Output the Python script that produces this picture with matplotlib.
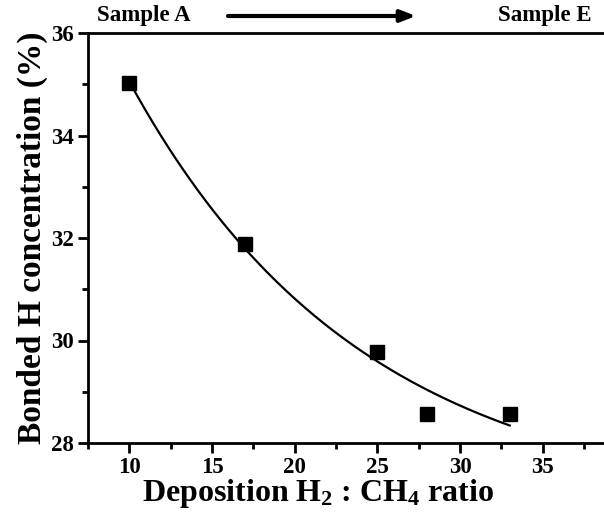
import numpy as np
import matplotlib
matplotlib.use("Agg")
import matplotlib.pyplot as plt
from matplotlib.ticker import MultipleLocator

# data
ratio = np.array([10, 17, 25, 28, 33])
h_conc = np.array([35.02, 31.88, 29.77, 28.57, 28.57])
sample_first = "Sample A"
sample_last = "Sample E"

plt.rcParams['font.family'] = ['Liberation Serif', 'DejaVu Serif']
plt.rcParams['font.weight'] = 'bold'
plt.rcParams['axes.labelweight'] = 'bold'
plt.rcParams['mathtext.fontset'] = 'custom'
plt.rcParams['mathtext.rm'] = 'Liberation Serif:bold'
plt.rcParams['mathtext.bf'] = 'Liberation Serif:bold'
plt.rcParams['mathtext.default'] = 'rm'

# exponential decay fit y = y0 + A*exp(-x/t), scan t
best = None
for t in np.linspace(2, 200, 4000):
    M = np.column_stack([np.ones_like(ratio, dtype=float), np.exp(-ratio / t)])
    coef, res, _, _ = np.linalg.lstsq(M, h_conc, rcond=None)
    err = np.sum((M @ coef - h_conc) ** 2)
    if best is None or err < best[0]:
        best = (err, t, coef)
_, t_fit, (y0, a_fit) = best
xfit = np.linspace(ratio.min(), ratio.max(), 200)
yfit = y0 + a_fit * np.exp(-xfit / t_fit)

fig = plt.figure(figsize=(6.04, 5.22), dpi=100)
ax = fig.add_axes([88 / 604, 1 - 443 / 522, 1 - 88 / 604, (443 - 33) / 522])

ax.plot(xfit, yfit, color='black', lw=1.6)
ax.plot(ratio, h_conc, 's', color='black', ms=9.5)

ax.set_xlim(7.5, 38.7)
ax.set_ylim(28, 36)
ax.xaxis.set_major_locator(MultipleLocator(5))
ax.xaxis.set_minor_locator(MultipleLocator(2.5))
ax.yaxis.set_major_locator(MultipleLocator(2))
ax.yaxis.set_minor_locator(MultipleLocator(1))
ax.spines['right'].set_visible(False)
for s in ['left', 'bottom', 'top']:
    ax.spines[s].set_linewidth(2)
ax.tick_params(which='major', direction='out', length=7, width=2, labelsize=16.5, pad=3)
ax.tick_params(which='minor', direction='out', length=4, width=2)
ax.tick_params(top=False, which='both')

# x label centred a bit left of the axes middle, as in the original
fig.text(318 / 604, 1 - 493 / 522, r'Deposition H$_2$ : CH$_4$ ratio',
         fontsize=23, ha='center', va='center', fontweight='bold')
ax.set_ylabel('Bonded H concentration (%)', fontsize=24, labelpad=2)

fig.text(97 / 604, 1 - 16 / 522, sample_first, fontsize=16.5, ha='left', va='center')
fig.text(592 / 604, 1 - 16 / 522, sample_last, fontsize=16.5, ha='right', va='center')
fig.add_artist(matplotlib.patches.FancyArrowPatch(
    (228 / 604, 1 - 16 / 522), (416 / 604, 1 - 16 / 522), transform=fig.transFigure,
    arrowstyle='-|>,head_length=9,head_width=3.5', color='black', lw=3, shrinkA=0, shrinkB=0))

fig.savefig('out.png', dpi=100)
